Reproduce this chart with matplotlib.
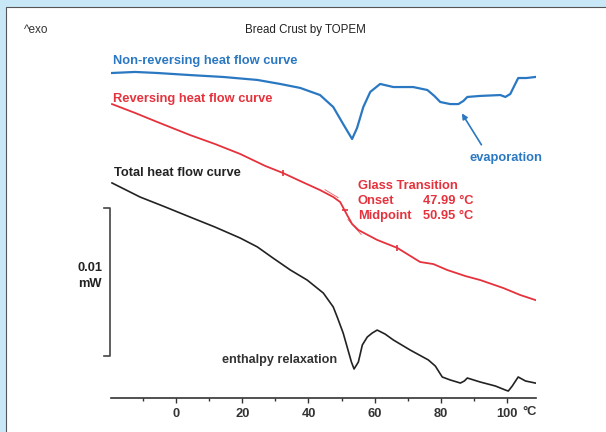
import numpy as np
import matplotlib.pyplot as plt
from matplotlib.patches import Rectangle
from matplotlib.transforms import blended_transform_factory

plt.rcParams['font.family'] = ['Liberation Sans', 'DejaVu Sans']

# temperature (°C) and heat flow (mW) for the three TOPEM curves
nonrev_temp = [-19.5, -12.5, -5.8, 4.1, 14.2, 24.5, 31.4, 37.5, 43.5, 47.5, 50.5, 53.2,
               54.7, 56.6, 58.7, 61.7, 65.7, 71.7, 76.0, 78.1, 79.9, 82.9, 85.4, 86.9,
               88.1, 92.0, 98.1, 99.6, 101.1, 103.5, 106.0, 108.7]
nonrev_hf = [0.02196, 0.02203, 0.02196, 0.02182, 0.02169, 0.02149, 0.02122, 0.02095,
             0.02047, 0.01966, 0.01851, 0.01750, 0.01824, 0.01966, 0.02068, 0.02122,
             0.02101, 0.02101, 0.02081, 0.02041, 0.02000, 0.01986, 0.01986, 0.02007,
             0.02034, 0.02041, 0.02047, 0.02034, 0.02054, 0.02162, 0.02162, 0.02169]

rev_temp = [-19.5, -12.5, -5.8, 4.1, 11.7, 19.3, 26.9, 32.3, 37.5, 43.5, 47.5, 49.6,
            51.7, 53.2, 55.1, 60.8, 66.9, 73.8, 77.8, 82.0, 87.5, 92.0, 99.0, 104.1, 108.7]
rev_hf = [0.01986, 0.01926, 0.01865, 0.01777, 0.01716, 0.01649, 0.01568, 0.01520,
          0.01466, 0.01405, 0.01358, 0.01324, 0.01236, 0.01176, 0.01135, 0.01068,
          0.01014, 0.00919, 0.00905, 0.00865, 0.00824, 0.00797, 0.00743, 0.00696, 0.00662]

total_temp = [-19.5, -11.0, -3.4, 4.1, 11.7, 19.3, 24.5, 29.3, 34.5, 39.6, 44.5, 47.5,
              48.7, 50.5, 51.7, 53.0, 53.8, 55.1, 56.3, 57.8, 59.3, 60.8, 63.2, 65.7,
              70.8, 76.3, 78.4, 80.5, 82.9, 86.0, 87.2, 88.1, 92.0, 96.6, 99.6, 100.5,
              101.7, 103.5, 105.7, 108.7]
total_hf = [0.01453, 0.01358, 0.01291, 0.01223, 0.01155, 0.01081, 0.01021, 0.00945,
            0.00865, 0.00797, 0.00709, 0.00615, 0.00547, 0.00439, 0.00345, 0.00243,
            0.00196, 0.00243, 0.00358, 0.00412, 0.00439, 0.00459, 0.00432, 0.00392,
            0.00324, 0.00257, 0.00216, 0.00142, 0.00122, 0.00101, 0.00115, 0.00135,
            0.00108, 0.00081, 0.00054, 0.00047, 0.00081, 0.00142, 0.00115, 0.00101]

# glass transition evaluation on the reversing curve
tg_limits = [32.3, 66.9]
tg_onset = 47.99
tg_midpoint = 50.95

major_ticks = [0, 20, 40, 60, 80, 100]
major_labels = ['0', '20', '40', '60', '80', '100']
minor_ticks = [-10, 10, 30, 50, 70, 90]

BLUE = '#2b78c2'
RED = '#e5323c'
DARK = '#222222'
FS = 9.3

W, H = 606, 432


def px(x, y):
    return x / W, 1 - y / H


fig = plt.figure(figsize=(W / 100, H / 100), dpi=100)
fig.patch.set_facecolor('#c8e8f8')
fig.patches.append(Rectangle(px(6, 440), 620 / W, 433 / H, transform=fig.transFigure,
                             facecolor='white', edgecolor='#555555', lw=0.8, zorder=-10))

ax = fig.add_axes([111 / W, (H - 398) / H, (535.7 - 111) / W, (398 - 20) / H])
ax.set_facecolor('none')
ax.set_xlim(-19.8, 108.8)
ax.set_ylim(0, 0.02554)

ax.plot(nonrev_temp, nonrev_hf, color=BLUE, lw=1.6, solid_joinstyle='round')
ax.plot(rev_temp, rev_hf, color=RED, lw=1.3, solid_joinstyle='round')
ax.plot(total_temp, total_hf, color=DARK, lw=1.2, solid_joinstyle='round')

# limit marks and tangents of the Tg evaluation
lim_hf = np.interp(tg_limits, rev_temp, rev_hf)
ax.plot(tg_limits, lim_hf, ls='none', marker='|', ms=5, mew=1.2, color=RED)
mid_hf = np.interp(tg_midpoint, rev_temp, rev_hf)
ax.plot([tg_midpoint], [mid_hf], ls='none', marker='_', ms=5, mew=1.2, color=RED)
for t0, t1, dy in [(tg_onset - 3, tg_onset + 1, 0.0002), (tg_midpoint + 1, tg_midpoint + 5, -0.0002)]:
    y0, y1 = np.interp([t0, t1], rev_temp, rev_hf)
    ax.plot([t0, t1], [y0 + dy, y1 + dy], color=RED, lw=0.6, alpha=0.8)

for side in ['top', 'right', 'left']:
    ax.spines[side].set_visible(False)
ax.spines['bottom'].set_color('#333333')
ax.spines['bottom'].set_linewidth(1.2)
ax.set_yticks([])
ax.set_xticks(major_ticks)
ax.set_xticklabels(major_labels, fontweight='bold', fontsize=FS, color='#333333')
ax.set_xticks(minor_ticks, minor=True)
ax.tick_params(axis='x', which='major', length=3.5, width=1, color='#333333', pad=4)
ax.tick_params(axis='x', which='minor', length=2.5, width=1, color='#333333')

# 0.01 mW scale bar
bar = blended_transform_factory(fig.transFigure, ax.transData)
ax.plot([104 / W, 110 / W, 110 / W, 104 / W], [0.00284, 0.00284, 0.01284, 0.01284],
        transform=bar, color='#444444', lw=1.2, clip_on=False)

fig.text(*px(90, 268), '0.01', ha='center', va='center', fontsize=FS, fontweight='bold', color=DARK)
fig.text(*px(90, 284), 'mW', ha='center', va='center', fontsize=FS, fontweight='bold', color=DARK)
fig.text(*px(537, 412), '°C', ha='right', va='center', fontsize=FS, fontweight='bold', color='#333333')

fig.text(*px(24, 30), '^exo', ha='left', va='center', fontsize=8.5, color='#333333')
fig.text(*px(305, 30), 'Bread Crust by TOPEM', ha='center', va='center', fontsize=8.3, color='#222222')

fig.text(*px(113, 61), 'Non-reversing heat flow curve', ha='left', va='center',
         fontsize=FS, fontweight='bold', color=BLUE)
fig.text(*px(113, 99), 'Reversing heat flow curve', ha='left', va='center',
         fontsize=FS, fontweight='bold', color=RED)
fig.text(*px(114, 173), 'Total heat flow curve', ha='left', va='center',
         fontsize=FS, fontweight='bold', color=DARK)
fig.text(*px(222, 360), 'enthalpy relaxation', ha='left', va='center',
         fontsize=9.1, fontweight='bold', color='#333333')

fig.text(*px(358, 186), 'Glass Transition', ha='left', va='center', fontsize=FS, fontweight='bold', color=RED)
fig.text(*px(358, 201), 'Onset', ha='left', va='center', fontsize=FS, fontweight='bold', color=RED)
fig.text(*px(358, 216), 'Midpoint', ha='left', va='center', fontsize=FS, fontweight='bold', color=RED)
fig.text(*px(423, 201), f'{tg_onset:.2f} °C', ha='left', va='center', fontsize=FS, fontweight='bold', color=RED)
fig.text(*px(423, 216), f'{tg_midpoint:.2f} °C', ha='left', va='center', fontsize=FS, fontweight='bold', color=RED)

fig.text(*px(470, 158), 'evaporation', ha='left', va='center', fontsize=FS, fontweight='bold', color=BLUE)
ax.annotate('', xy=(86.0, 0.01939), xytext=(92.8, 0.01695),
            arrowprops=dict(arrowstyle='-|>', color=BLUE, lw=1.2, mutation_scale=8))

fig.savefig('out.png', dpi=100)
